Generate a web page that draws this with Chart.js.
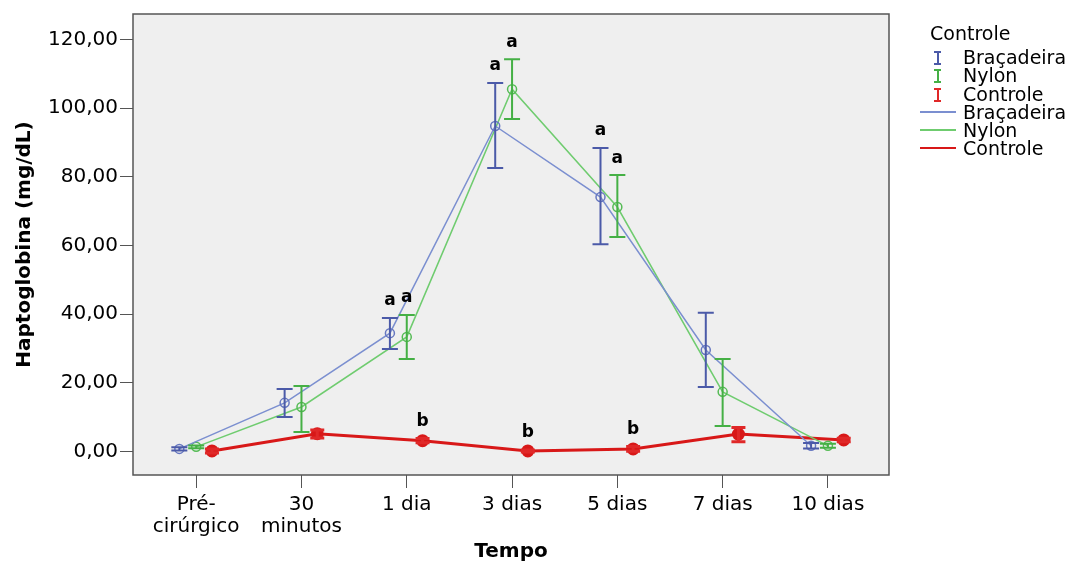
<!DOCTYPE html>
<html>
<head>
<meta charset="utf-8">
<script src="https://cdn.jsdelivr.net/npm/chart.js@4"></script>
<style>
    body { margin: 0; background: #fff; }
    #wrap { position: relative; width: 1070px; height: 569px; }
    #legend { position: absolute; left: 930px; top: 21px; font-family: 'DejaVu Sans'; font-size: 19px; color: #000; }
    #legend .title { height: 24px; line-height: 24px; margin-bottom: 3px; }
    #legend .row { position: relative; height: 18.3px; line-height: 18.3px; padding-left: 33px; white-space: nowrap; }
    #legend .bar { position: absolute; left: 4px; top: 3px; width: 7px; height: 12px; }
    #legend .bar::before { content: ''; position: absolute; left: 2.5px; top: 0; width: 2px; height: 12px; background: currentColor; }
    #legend .bar::after { content: ''; position: absolute; left: 0; top: 0; width: 7px; height: 10px; border-top: 2px solid currentColor; border-bottom: 2px solid currentColor; }
    #legend .line { position: absolute; left: -10px; top: 8px; width: 36px; height: 2px; }
</style>
</head>
<body>
<div id="wrap">
    <canvas id="haptoChart" width="1070" height="569"></canvas>
    <div id="legend">
        <div class="title">Controle</div>
        <div class="row"><span class="bar" style="color:#4b5aa8"></span>Braçadeira</div>
        <div class="row"><span class="bar" style="color:#45b045"></span>Nylon</div>
        <div class="row"><span class="bar" style="color:#e02828"></span>Controle</div>
        <div class="row"><span class="line" style="background:#7b8fd0"></span>Braçadeira</div>
        <div class="row"><span class="line" style="background:#6fcc6f"></span>Nylon</div>
        <div class="row"><span class="line" style="background:#d81818"></span>Controle</div>
    </div>
</div>
<script>
// time points (x axis)
const timeLabels = [['Pré-', 'cirúrgico'], ['30', 'minutos'], '1 dia', '3 dias', '5 dias', '7 dias', '10 dias'];
const yTicks = [0, 20, 40, 60, 80, 100, 120];

// Braçadeira
const bracMean = [0.8, 14.2, 34.5, 94.8, 74.1, 29.6, 1.7];
const bracHigh = [1.3, 18.2, 38.9, 107.3, 88.4, 40.4, 2.5];
const bracLow  = [0.3, 10.1, 29.9, 82.6, 60.4, 18.8, 0.9];
const bracLetters = ['', '', 'a', 'a', 'a', '', ''];

// Nylon
const nylonMean = [1.4, 13.0, 33.4, 105.5, 71.2, 17.4, 1.7];
const nylonHigh = [1.8, 19.1, 39.8, 114.2, 80.5, 27.0, 2.3];
const nylonLow  = [1.0, 5.7, 27.0, 96.8, 62.5, 7.5, 1.1];
const nylonLetters = ['', '', 'a', 'a', 'a', '', ''];

// Controle
const ctrlMean = [0.2, 5.2, 3.2, 0.2, 0.8, 5.1, 3.4];
const ctrlHigh = [0.8, 6.3, 3.8, 0.5, 1.5, 7.0, 3.9];
const ctrlLow  = [-0.4, 4.0, 2.6, -0.1, 0.1, 2.9, 2.9];
const ctrlLetters = ['', '', 'b', 'b', 'b', '', ''];

const toPoints = (vals, shift) => vals.map((v, i) => ({ x: i + shift, y: v }));

const series = [
    { high: bracHigh, low: bracLow, letters: bracLetters, color: '#4b5aa8', width: 2, cap: 8 },
    { high: nylonHigh, low: nylonLow, letters: nylonLetters, color: '#45b045', width: 2, cap: 8 },
    { high: ctrlHigh, low: ctrlLow, letters: ctrlLetters, color: '#e02828', width: 3, cap: 7 }
];

const plotFrame = {
    id: 'plotFrame',
    beforeDraw(chart) {
        const { ctx, chartArea: a } = chart;
        ctx.save();
        ctx.fillStyle = '#efefef';
        ctx.fillRect(a.left, a.top, a.right - a.left, a.bottom - a.top);
        ctx.restore();
    },
    afterDraw(chart) {
        const { ctx, chartArea: a } = chart;
        ctx.save();
        ctx.strokeStyle = '#555';
        ctx.lineWidth = 1.5;
        ctx.strokeRect(a.left, a.top, a.right - a.left, a.bottom - a.top);
        ctx.restore();
    }
};

const errorBars = {
    id: 'errorBars',
    afterDatasetsDraw(chart) {
        const { ctx } = chart;
        const y = chart.scales.y;
        ctx.save();
        series.forEach((s, d) => {
            const meta = chart.getDatasetMeta(d);
            meta.data.forEach((pt, i) => {
                const yh = y.getPixelForValue(s.high[i]);
                const yl = y.getPixelForValue(s.low[i]);
                ctx.strokeStyle = s.color;
                ctx.lineWidth = s.width;
                ctx.beginPath();
                ctx.moveTo(pt.x, yh); ctx.lineTo(pt.x, yl);
                ctx.moveTo(pt.x - s.cap, yh); ctx.lineTo(pt.x + s.cap, yh);
                ctx.moveTo(pt.x - s.cap, yl); ctx.lineTo(pt.x + s.cap, yl);
                ctx.stroke();
                if (s.letters[i]) {
                    ctx.fillStyle = '#000';
                    ctx.font = 'bold 17px "DejaVu Sans"';
                    ctx.textAlign = 'center';
                    ctx.textBaseline = 'middle';
                    ctx.fillText(s.letters[i], pt.x, yh - 17);
                }
            });
        });
        ctx.restore();
    }
};

const ctx = document.getElementById('haptoChart').getContext('2d');
const haptoChart = new Chart(ctx, {
    type: 'line',
    data: {
        datasets: [{
            label: 'Braçadeira',
            data: toPoints(bracMean, -0.16),
            borderColor: '#7b8fd0',
            borderWidth: 1.5,
            pointRadius: 4.5,
            pointBorderColor: '#6677c0',
            pointBackgroundColor: 'rgba(0,0,0,0)',
            pointBorderWidth: 1.5,
            fill: false
        },
        {
            label: 'Nylon',
            data: toPoints(nylonMean, 0),
            borderColor: '#6fcc6f',
            borderWidth: 1.5,
            pointRadius: 4.5,
            pointBorderColor: '#55bb55',
            pointBackgroundColor: 'rgba(0,0,0,0)',
            pointBorderWidth: 1.5,
            fill: false
        },
        {
            label: 'Controle',
            data: toPoints(ctrlMean, 0.15),
            borderColor: '#d81818',
            borderWidth: 3,
            pointRadius: 5,
            pointBorderColor: '#d81818',
            pointBackgroundColor: '#d81818',
            fill: false
        }]
    },
    options: {
        responsive: false,
        animation: false,
        devicePixelRatio: 1,
        layout: { padding: { left: 0, top: 14, right: 181, bottom: 0 } },
        plugins: {
            legend: { display: false },
            tooltip: { enabled: false }
        },
        scales: {
            x: {
                type: 'linear',
                min: -0.6,
                max: 6.58,
                afterBuildTicks: (s) => { s.ticks = timeLabels.map((_, i) => ({ value: i })); },
                afterFit: (s) => { s.height = 94; },
                grid: { drawOnChartArea: false, drawTicks: true, tickLength: 13, color: '#555' },
                border: { display: false },
                ticks: {
                    autoSkip: false,
                    maxRotation: 0,
                    padding: 6,
                    color: '#000',
                    font: { family: 'DejaVu Sans', size: 20, lineHeight: 1.1 },
                    callback: (v) => timeLabels[v]
                },
                title: {
                    display: true,
                    text: 'Tempo',
                    color: '#000',
                    font: { family: 'DejaVu Sans', size: 20, weight: 'bold' },
                    padding: { top: 0, bottom: 5 }
                }
            },
            y: {
                min: -6.8,
                max: 127.4,
                afterBuildTicks: (s) => { s.ticks = yTicks.map((v) => ({ value: v })); },
                afterFit: (s) => { s.width = 133; },
                grid: { drawOnChartArea: false, drawTicks: true, tickLength: 13, color: '#555' },
                border: { display: false },
                ticks: {
                    padding: 2,
                    color: '#000',
                    font: { family: 'DejaVu Sans', size: 20 },
                    callback: (v) => v.toFixed(2).replace('.', ',')
                },
                title: {
                    display: true,
                    text: 'Haptoglobina (mg/dL)',
                    color: '#000',
                    font: { family: 'DejaVu Sans', size: 20, weight: 'bold' },
                    padding: { top: 13, bottom: 0 }
                }
            }
        }
    },
    plugins: [plotFrame, errorBars]
});
</script>
</body>
</html>
